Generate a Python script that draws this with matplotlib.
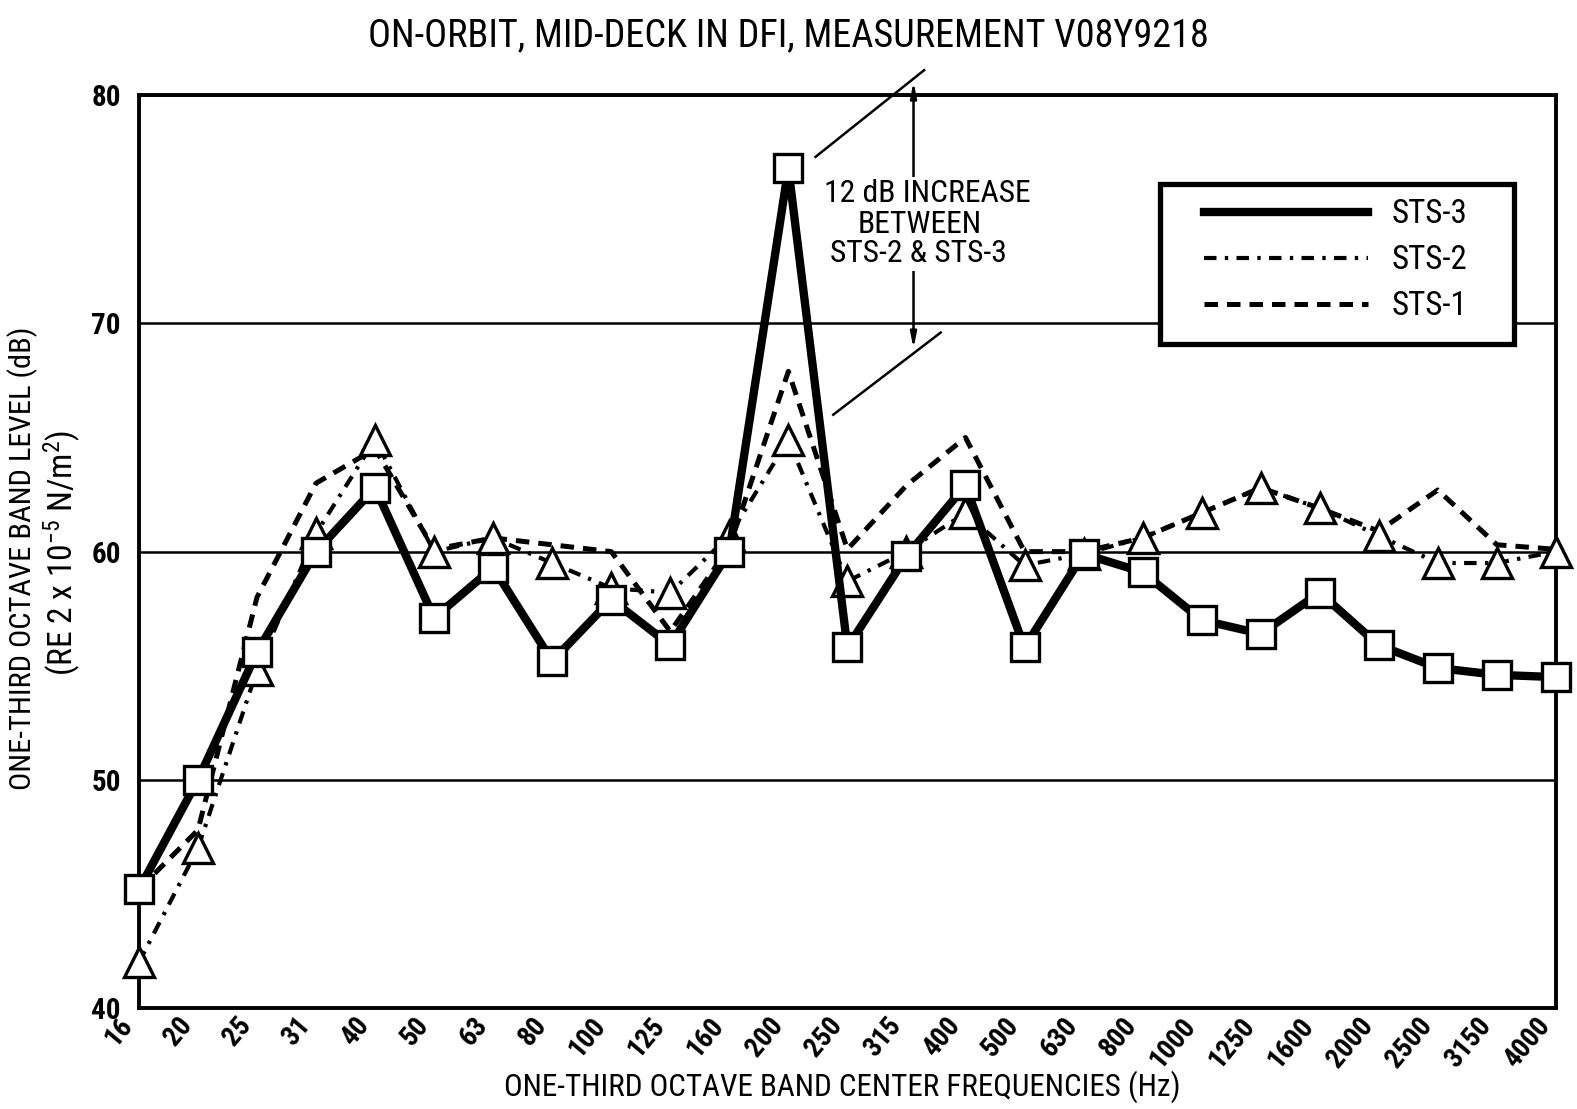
import numpy as np
import matplotlib
matplotlib.use("Agg")
import matplotlib.pyplot as plt
import matplotlib.transforms as mtransforms
from matplotlib import font_manager as fm
from matplotlib.lines import Line2D
from matplotlib.patches import Rectangle
from matplotlib.ticker import FixedLocator


# the scan uses narrow stencil-like lettering: take a narrow face if there is one
def is_bold(w):
    if isinstance(w, (int, float)):
        return w >= 600
    return str(w).lower() in ('bold', 'semibold', 'demibold', 'heavy', 'black')


fonts = fm.fontManager.ttflist
cands = {}
for f in fonts:
    if 'Narrow' in f.name or 'Condensed' in f.name:
        cands.setdefault(f.name, False)
        cands[f.name] = cands[f.name] or is_bold(f.weight)
pref = ['Liberation Sans Narrow', 'Roboto Condensed', 'Open Sans Condensed',
        'Noto Sans Condensed']
order = [n for n in pref if n in cands] + sorted(n for n in cands if cands[n]) + sorted(cands)
if order:
    FONT = order[0]
else:
    FONT = 'DejaVu Sans'
    if any(f.name == 'DejaVu Sans' and f.stretch == 'condensed' for f in fonts):
        plt.rcParams['font.stretch'] = 'condensed'
plt.rcParams['font.family'] = [FONT, 'DejaVu Sans']
plt.rcParams['mathtext.fontset'] = 'custom'
plt.rcParams['mathtext.rm'] = FONT
plt.rcParams['mathtext.it'] = FONT

# 1. Data: one-third octave band levels (dB re 2e-5 N/m^2)
bands = ['16', '20', '25', '31', '40', '50', '63', '80', '100', '125', '160',
         '200', '250', '315', '400', '500', '630', '800', '1000', '1250',
         '1600', '2000', '2500', '3150', '4000']
sts3 = [45.2, 50.0, 55.6, 60.0, 62.8, 57.1, 59.3, 55.2, 57.9, 55.9, 60.0,
        76.8, 55.8, 59.8, 62.9, 55.8, 59.9, 59.1, 57.0, 56.4, 58.2, 55.9,
        54.9, 54.6, 54.5]
sts2 = [42.0, 47.0, 54.8, 60.8, 64.9, 60.0, 60.6, 59.5, 58.4, 58.2, 60.7,
        64.9, 58.7, 60.0, 61.7, 59.4, 59.9, 60.6, 61.7, 62.8, 61.9, 60.7,
        59.5, 59.5, 60.0]
sts1 = [45.2, 47.8, 58.0, 63.0, 64.5, 60.1, 60.6, 60.3, 60.0, 56.5, 60.2,
        67.9, 60.1, 62.9, 65.0, 60.0, 60.0, 60.6, 61.7, 62.8, 61.9, 60.9,
        62.7, 60.3, 60.1]

STS1_LS = (0, (2.7, 1.8))
STS2_LS = (0, (3.0, 2.0, 0.8, 2.0))

# 2. Figure
fig = plt.figure(figsize=(15.77, 11.09), dpi=100, facecolor='white')
ax = fig.add_axes([0.0881, 0.0911, 0.8985, 0.8230])
renderer = fig.canvas.get_renderer()


def size_for(s, target_px, base=20, **kw):
    """font size that makes string s about target_px wide"""
    t = fig.text(0, 0, s, fontsize=base, **kw)
    w = t.get_window_extent(renderer).width
    t.remove()
    return base * target_px / w


x = np.arange(len(bands))
ax.plot(x, sts1, ls=STS1_LS, lw=3.6, color='black', zorder=3, clip_on=False)
ax.plot(x, sts2, ls=STS2_LS, lw=3.0, color='black', marker='^', ms=21,
        mfc='white', mec='black', mew=2.4, zorder=4, clip_on=False)
ax.plot(x, sts3, '-', lw=6.0, color='black', marker='s', ms=20,
        mfc='white', mec='black', mew=2.4, zorder=5, clip_on=False)

ax.set_xlim(0, len(bands) - 1)
ax.set_ylim(40, 80)

ax.set_xticks(x)
ax.set_xticklabels(bands, rotation=50, ha='right', va='top',
                   fontsize=20, fontweight='bold')
shift = mtransforms.ScaledTranslation(10 / 100, 0, fig.dpi_scale_trans)
for lab in ax.get_xticklabels():
    lab.set_transform(lab.get_transform() + shift)
ax.set_yticks([40, 50, 60, 70, 80])
ax.set_yticklabels(['40', '50', '60', '70', '80'], fontsize=21,
                   fontweight='bold')
ax.xaxis.set_minor_locator(FixedLocator(x[::2]))
ax.tick_params(axis='both', which='both', length=0)
ax.tick_params(axis='x', pad=3)
ax.tick_params(axis='y', pad=13)
ax.grid(axis='y', which='major', color='black', lw=1.8)
ax.grid(axis='x', which='minor', color='black', lw=1.8)
ax.grid(axis='x', which='major', visible=False)
ax.set_axisbelow(True)
for s in ax.spines.values():
    s.set_linewidth(2.8)

# 3. Annotation: 12 dB jump at 200 Hz
ax.annotate('', xy=(13.12, 80.6), xytext=(13.12, 68.9),
            arrowprops=dict(arrowstyle='<|-|>,head_length=0.9,head_width=0.18',
                            lw=1.8, color='black', shrinkA=0, shrinkB=0),
            annotation_clip=False, zorder=6)
ax.plot([11.46, 13.3], [77.3, 81.1], color='black', lw=1.8, clip_on=False, zorder=6)
ax.plot([11.76, 13.58], [66.0, 69.6], color='black', lw=1.8, clip_on=False, zorder=6)
ann_fs = size_for('12 dB INCREASE', 207)
for tx, ty, line in [(13.35, 75.7, '12 dB INCREASE'),
                     (13.23, 74.35, 'BETWEEN'),
                     (13.21, 73.05, 'STS-2 & STS-3')]:
    ax.text(tx, ty, line, ha='center', va='center', fontsize=ann_fs, zorder=7,
            bbox=dict(fc='white', ec='none', pad=1.5))

# 4. Legend: box drawn by hand, entries by ax.legend (line styles only)
ax.add_patch(Rectangle((0.7206, 0.727), 0.2498, 0.176, transform=ax.transAxes,
                       fc='white', ec='black', lw=3.8, zorder=8, clip_on=False))
leg_fs = size_for('STS-3', 76)
px = leg_fs * 100 / 72
handles = [Line2D([], [], color='black', lw=6.0),
           Line2D([], [], color='black', lw=3.0, ls=STS2_LS),
           Line2D([], [], color='black', lw=3.6, ls=STS1_LS)]
leg = ax.legend(handles, ['STS-3', 'STS-2', 'STS-1'], loc='upper left',
                bbox_to_anchor=(0.7516, 0.887), fontsize=leg_fs, frameon=False,
                handlelength=164 / px, handletextpad=24 / px, borderpad=0,
                labelspacing=0.42, borderaxespad=0)
leg.set_zorder(9)

# 5. Texts
title = 'ON-ORBIT, MID-DECK IN DFI, MEASUREMENT V08Y9218'
fig.text(0.500, 0.968, title, ha='center', va='center',
         fontsize=size_for(title, 840))
xlab = 'ONE-THIRD OCTAVE BAND CENTER FREQUENCIES (Hz)'
fig.text(0.534, 0.020, xlab, ha='center', va='center',
         fontsize=size_for(xlab, 679))
ylab1 = 'ONE-THIRD OCTAVE BAND LEVEL (dB)'
y1_fs = size_for(ylab1, 463)
fig.text(0.0145, 0.497, ylab1, rotation=90, ha='center', va='center',
         fontsize=y1_fs)
ylab2 = r'(RE 2 x 10$^{-5}$ N/m$^{2}$)'
fig.text(0.0395, 0.501, ylab2, rotation=90, ha='center', va='center',
         fontsize=min(size_for(ylab2, 300), y1_fs * 1.1))

fig.savefig('out.png', dpi=100, facecolor='white')
